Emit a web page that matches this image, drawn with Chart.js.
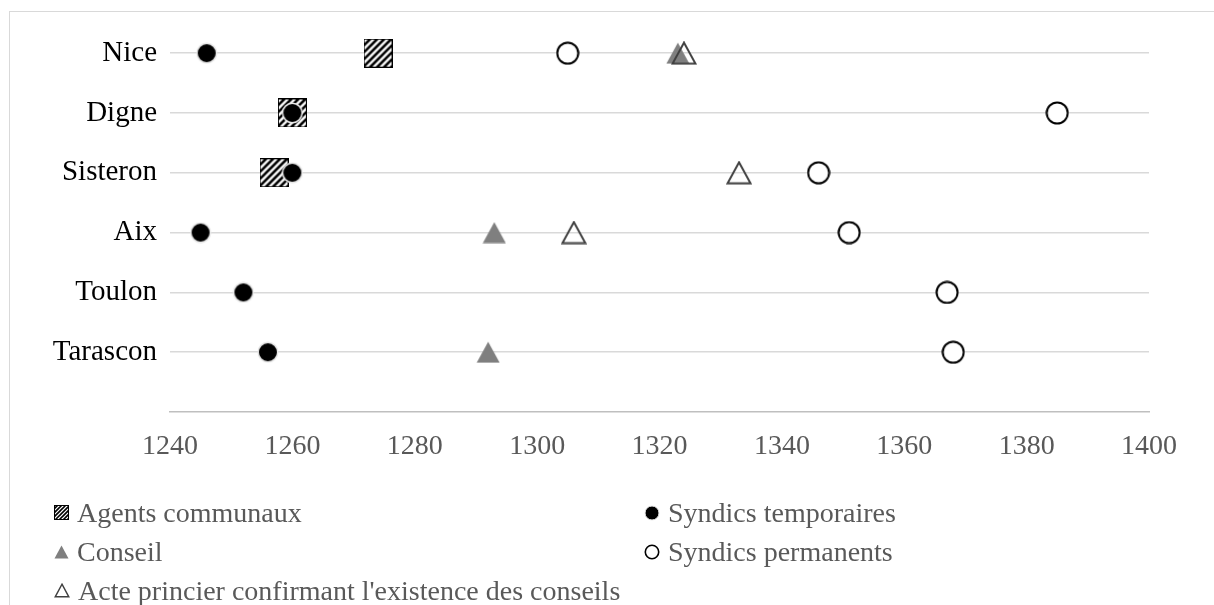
<!DOCTYPE html>
<html lang="fr">
<head>
<meta charset="UTF-8">
<title>Institutions communales en Provence</title>
<script src="https://cdn.jsdelivr.net/npm/chart.js"></script>
<style>
    html, body { margin: 0; padding: 0; background: #fff; overflow: hidden; }
    #wrap { position: relative; width: 1214px; height: 605px; }
    #frame {
        position: absolute; left: 9px; top: 11px; width: 1300px; height: 700px;
        border: 1.5px solid #d9d9d9; box-sizing: border-box;
    }
    #chart { position: absolute; left: 0; top: 0; }
    #legend {
        position: absolute; left: 0; top: 0;
        font-family: "Liberation Serif", "Times New Roman", serif; font-size: 28px; color: #595959;
    }
    .item { position: absolute; display: flex; align-items: center; height: 39px; white-space: nowrap; }
    .item img { margin-right: 8px; }
</style>
</head>
<body>
<div id="wrap">
    <div id="frame"></div>
    <canvas id="chart" width="1214" height="605"></canvas>
    <div id="legend"></div>
</div>
<script>
// villes, de haut en bas
const cities = ['Nice', 'Digne', 'Sisteron', 'Aix', 'Toulon', 'Tarascon'];

// années par ville (null = pas de marque)
const agentsCommunaux    = [1274, 1260, 1257, null, null, null];
const syndicsTemporaires = [1246, 1260, 1260, 1245, 1252, 1256];
const conseil            = [1323, null, null, 1293, null, 1292];
const syndicsPermanents  = [1305, 1385, 1346, 1351, 1367, 1368];
const actePrincier       = [1324, null, 1333, 1306, null, null];

const xTicks = { min: 1240, max: 1400, step: 20 };

// petits canvas servant de marqueurs
function makeCanvas(w, h, draw) {
    const c = document.createElement('canvas');
    c.width = w; c.height = h;
    draw(c.getContext('2d'), w, h);
    return c;
}

function hatch(size, period, lw) {
    return makeCanvas(size, size, (ctx, w, h) => {
        ctx.fillStyle = '#fff';
        ctx.fillRect(0, 0, w, h);
        ctx.save();
        ctx.beginPath(); ctx.rect(0, 0, w, h); ctx.clip();
        ctx.strokeStyle = '#000';
        ctx.lineWidth = lw;
        for (let k = -w; k < 2 * w; k += period) {
            ctx.beginPath();
            ctx.moveTo(k, h);
            ctx.lineTo(k + h, 0);
            ctx.stroke();
        }
        ctx.restore();
        ctx.strokeStyle = '#000';
        ctx.lineWidth = 1;
        ctx.strokeRect(0.5, 0.5, w - 1, h - 1);
    });
}

function dot(d, fill, stroke, lw) {
    return makeCanvas(d, d, (ctx, w, h) => {
        ctx.beginPath();
        ctx.arc(w / 2, h / 2, w / 2 - lw / 2 - 0.5, 0, Math.PI * 2);
        ctx.fillStyle = fill;
        ctx.fill();
        ctx.lineWidth = lw;
        ctx.strokeStyle = stroke;
        ctx.stroke();
    });
}

function tri(w, h, fill, stroke, lw) {
    return makeCanvas(w, h, (ctx, cw, ch) => {
        const m = lw / 2 + 0.5;
        ctx.beginPath();
        ctx.moveTo(cw / 2, m);
        ctx.lineTo(cw - m, ch - m);
        ctx.lineTo(m, ch - m);
        ctx.closePath();
        if (fill) { ctx.fillStyle = fill; ctx.fill(); }
        if (stroke) { ctx.lineWidth = lw; ctx.strokeStyle = stroke; ctx.stroke(); }
    });
}

const markers = {
    agents: hatch(29, 7, 2.6),
    temp: dot(22, '#000', '#e8e8e8', 1.5),
    conseil: tri(24, 22, '#7f7f7f', null, 0),
    perm: dot(24, '#fff', '#000', 2),
    acte: tri(26, 24, null, '#404040', 2)
};
const legendMarkers = {
    agents: hatch(15, 4, 1.6),
    temp: dot(16, '#000', '#e8e8e8', 1),
    conseil: tri(15, 14, '#7f7f7f', null, 0),
    perm: dot(16, '#fff', '#000', 1.6),
    acte: tri(16, 15, null, '#404040', 1.4)
};

function toPoints(values) {
    const pts = [];
    values.forEach((v, i) => {
        if (v !== null) pts.push({ x: v, y: cities.length - i });
    });
    return pts;
}

const series = [
    { label: 'Agents communaux', data: agentsCommunaux, key: 'agents' },
    { label: 'Syndics temporaires', data: syndicsTemporaires, key: 'temp' },
    { label: 'Conseil', data: conseil, key: 'conseil' },
    { label: 'Syndics permanents', data: syndicsPermanents, key: 'perm' },
    { label: "Acte princier confirmant l'existence des conseils", data: actePrincier, key: 'acte' }
];

const datasets = series.map((s, i) => ({
    label: s.label,
    data: toPoints(s.data),
    pointStyle: markers[s.key],
    pointRadius: 10,
    pointHoverRadius: 10,
    showLine: false,
    order: series.length - i
}));

const serif = 'Liberation Serif';

const chart = new Chart(document.getElementById('chart'), {
    type: 'scatter',
    data: { datasets: datasets },
    options: {
        responsive: false,
        animation: false,
        events: [],
        layout: { padding: { top: 0, right: 65, bottom: 133, left: 0 } },
        plugins: { legend: { display: false }, tooltip: { enabled: false } },
        scales: {
            x: {
                type: 'linear',
                min: xTicks.min,
                max: xTicks.max,
                ticks: {
                    stepSize: xTicks.step,
                    padding: 18,
                    color: '#595959',
                    font: { family: serif, size: 28 },
                    callback: v => String(v)
                },
                grid: { display: false, drawTicks: false },
                border: { display: true, color: '#bfbfbf', width: 1.5 },
                afterFit: s => { s.height = 60; }
            },
            y: {
                type: 'linear',
                min: 0,
                max: 6.38,
                ticks: {
                    stepSize: 1,
                    includeBounds: false,
                    padding: 13,
                    color: '#000',
                    font: { family: serif, size: 29 },
                    callback: v => {
                        const i = cities.length - v;
                        return Number.isInteger(v) && v > 0 ? cities[i] : '';
                    }
                },
                grid: {
                    drawTicks: false,
                    lineWidth: 1.5,
                    color: ctx => (ctx.tick && Number.isInteger(ctx.tick.value) && ctx.tick.value > 0) ? '#d9d9d9' : 'rgba(0,0,0,0)'
                },
                border: { display: false },
                afterFit: s => { s.width = 170; }
            }
        }
    }
});

// légende HTML sur deux colonnes
const legend = document.getElementById('legend');
series.forEach((s, i) => {
    const item = document.createElement('div');
    item.className = 'item';
    item.style.left = (54 + (i % 2) * 590) + 'px';
    item.style.top = (493 + Math.floor(i / 2) * 39) + 'px';
    const img = document.createElement('img');
    img.src = legendMarkers[s.key].toDataURL();
    const txt = document.createElement('span');
    txt.textContent = s.label;
    item.appendChild(img);
    item.appendChild(txt);
    legend.appendChild(item);
});
</script>
</body>
</html>
